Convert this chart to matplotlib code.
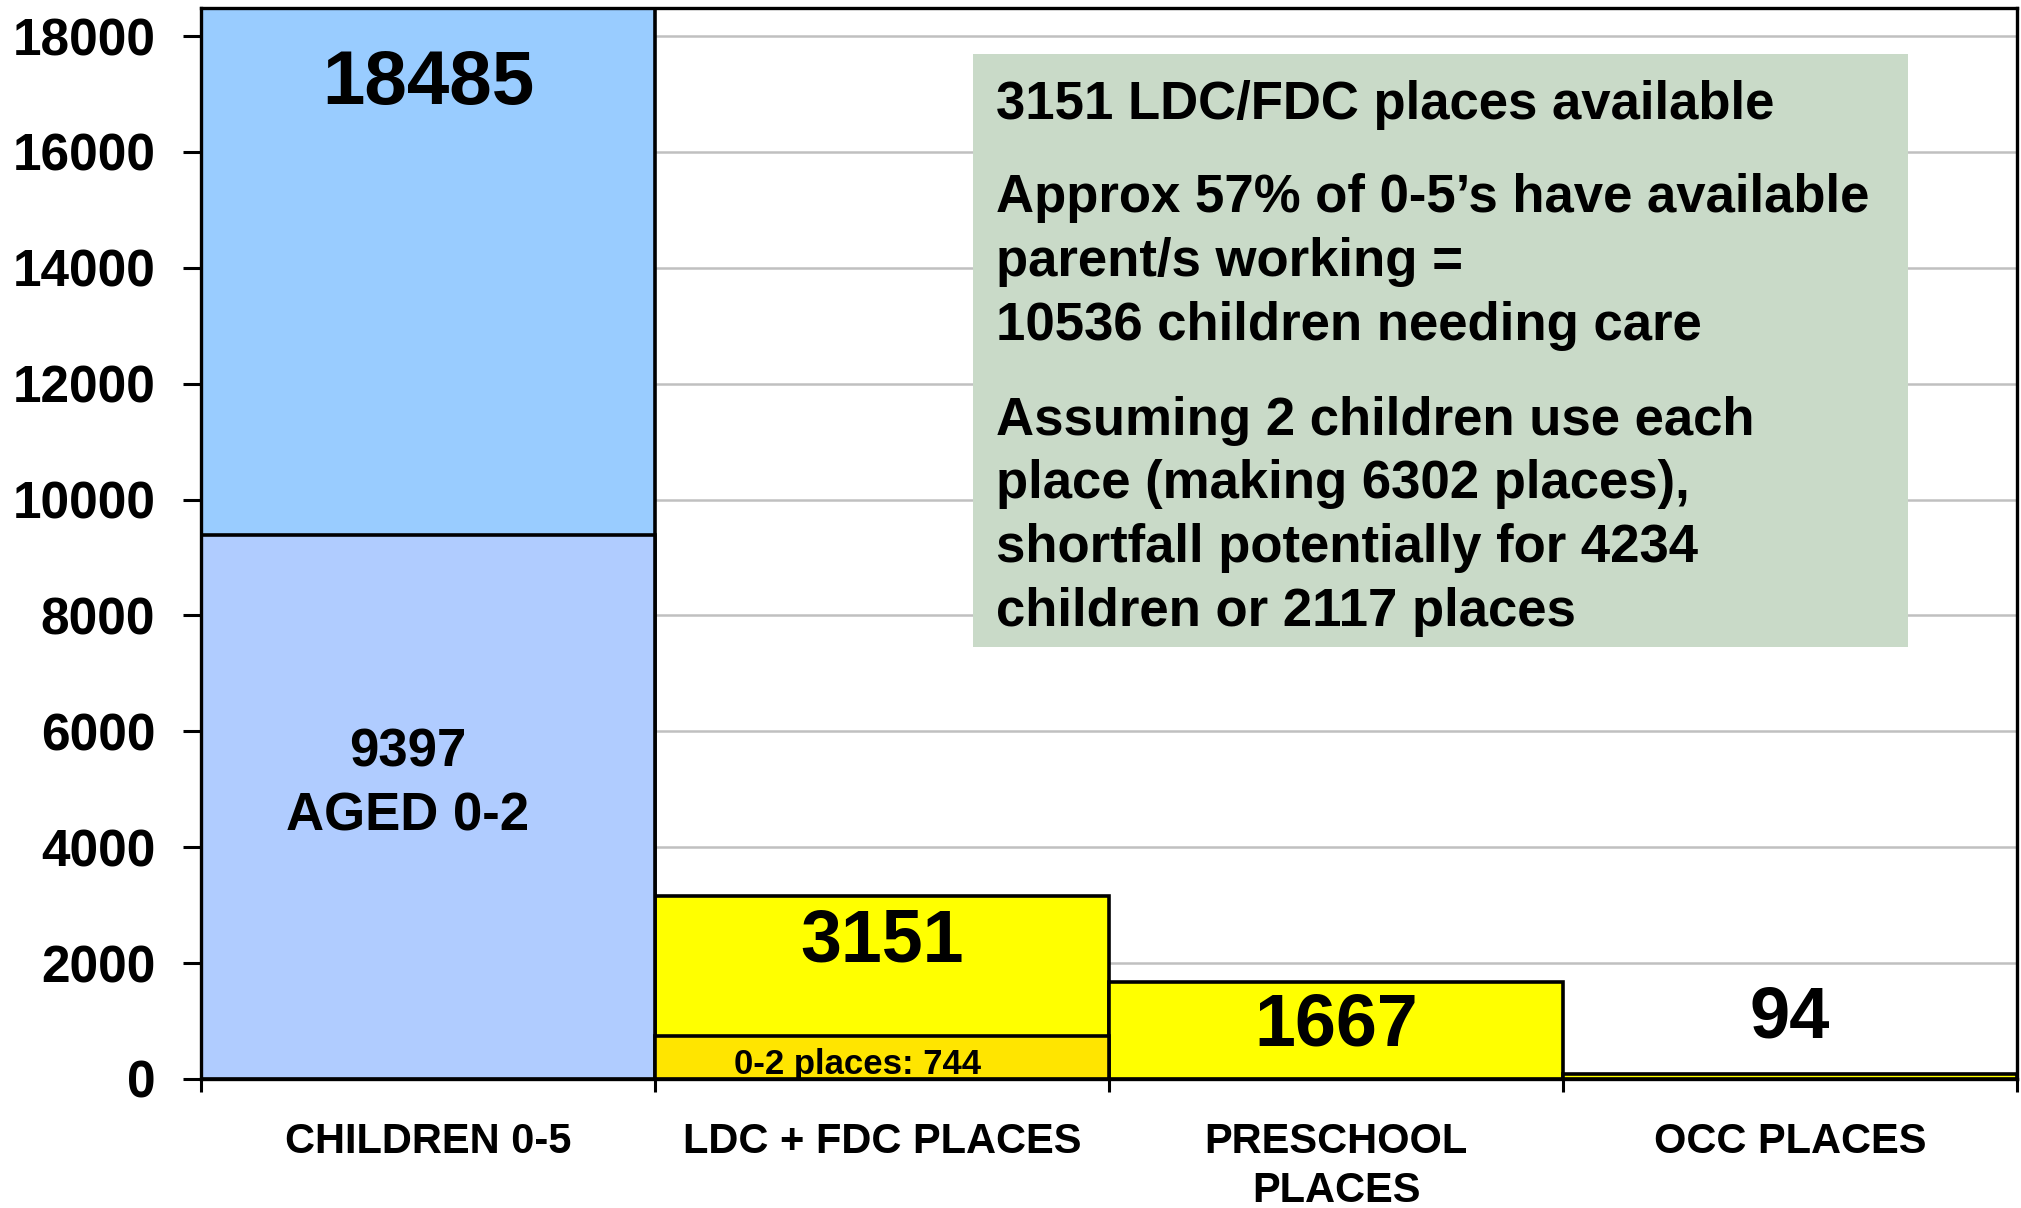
import matplotlib
matplotlib.use('Agg')
import matplotlib.pyplot as plt
from matplotlib.patches import Rectangle
import numpy as np

plt.rcParams['font.family'] = ['Liberation Sans', 'DejaVu Sans']
plt.rcParams['font.weight'] = 'bold'

# chart data
categories = ['CHILDREN 0-5', 'LDC + FDC PLACES', 'PRESCHOOL\nPLACES', 'OCC PLACES']
totals = [18485, 3151, 1667, 94]
under2_idx = [0, 1]
under2 = [9397, 744]
under2_text = ['9397\nAGED 0-2', '0-2 places: 744']
yticks = [0, 2000, 4000, 6000, 8000, 10000, 12000, 14000, 16000, 18000]

note_paragraphs = [
    ['3151 LDC/FDC places available'],
    ['Approx 57% of 0-5\u2019s have available',
     'parent/s working =',
     '10536 children needing care'],
    ['Assuming 2 children use each',
     'place (making 6302 places),',
     'shortfall potentially for 4234',
     'children or 2117 places'],
]

top_colors = ['#99CCFF', '#FFFF00', '#FFFF00', '#FFFF00']
low_colors = ['#B0CCFF', '#FFE500']

fig = plt.figure(figsize=(20.21, 12.08), dpi=100)
ax = fig.add_axes([0.0995, 0.1068, 0.8985, 0.8866])

x = np.arange(len(categories))
ax.bar(x, totals, width=1.0, color=top_colors, edgecolor='black', linewidth=2.6, zorder=2)
ax.bar(x[under2_idx], under2, width=1.0, color=low_colors, edgecolor='black', linewidth=2.6, zorder=2)

ax.set_xlim(-0.5, len(categories) - 0.5)
ax.set_ylim(0, totals[0])
ax.set_yticks(yticks)
ax.set_yticklabels([str(v) for v in yticks], fontsize=37, fontweight='bold')
ax.yaxis.grid(True, color='#C0C0C0', linewidth=1.8)
ax.set_axisbelow(True)

# category boundaries as major ticks, names on minor ticks
ax.set_xticks(np.arange(len(categories) + 1) - 0.5)
ax.set_xticklabels([])
ax.set_xticks(x, minor=True)
ax.set_xticklabels(categories, minor=True, fontsize=30, fontweight='bold', linespacing=1.3)
ax.tick_params(axis='x', which='major', length=9.5, width=2.2, direction='out')
ax.tick_params(axis='x', which='minor', length=0, pad=31)
ax.tick_params(axis='y', length=13, width=2.2, pad=20)
for s in ax.spines.values():
    s.set_linewidth(2.4)
    s.set_zorder(3)

# value labels
def ypix(p):
    # convert pixel row of the full figure into data y (small shift for text centring)
    return (1079 - p - 5) / ((1079 - 8) / totals[0])

ax.text(0, ypix(79.5), str(totals[0]), ha='center', va='center', fontsize=55, fontweight='bold', zorder=4)
ax.text(1, ypix(937), str(totals[1]), ha='center', va='center', fontsize=53, fontweight='bold', zorder=4)
ax.text(2, ypix(1021), str(totals[2]), ha='center', va='center', fontsize=53, fontweight='bold', zorder=4)
ax.text(3, ypix(1014), str(totals[3]), ha='center', va='center', fontsize=52, fontweight='bold', zorder=4)

for row, line in zip([748, 812], under2_text[0].split('\n')):
    ax.text(-0.045, ypix(row), line, ha='center', va='center', fontsize=38, fontweight='bold', zorder=4)
ax.text(0.945, ypix(1060), under2_text[1], ha='center', va='center', fontsize=25, fontweight='bold', zorder=4)

# note box
def xpix(p):
    return (p - 201) / 454.0 - 0.5

ax.add_patch(Rectangle((xpix(973), ypix(647) + 5 * totals[0] / 1071),
                       xpix(1908) - xpix(973), (647 - 54) * totals[0] / 1071,
                       facecolor='#C9DAC8', edgecolor='none', zorder=3))
rows = [[100.5], [193, 257, 321], [416, 479.5, 543, 607]]
for para, prow in zip(note_paragraphs, rows):
    for line, r in zip(para, prow):
        ax.text(xpix(996), ypix(r), line, ha='left', va='center', fontsize=38, fontweight='bold', zorder=4)

fig.savefig('out.png', dpi=100)
